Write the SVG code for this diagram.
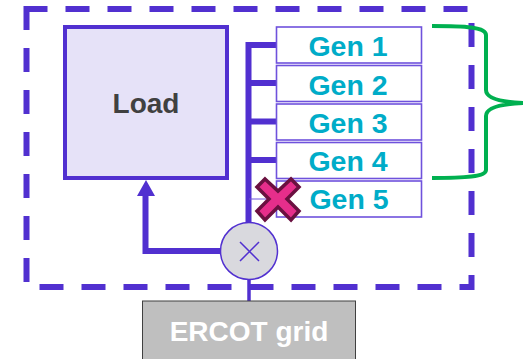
<svg xmlns="http://www.w3.org/2000/svg" width="523" height="359" viewBox="0 0 523 359">
<style>
.gen{fill:#fff;stroke:#6f52dc;stroke-width:1.6}
.gt{font:bold 28.500px "Liberation Sans",Arial,sans-serif;fill:#00acc8;text-anchor:middle}
.bus{fill:none;stroke:#5130d0;stroke-width:6}
</style>
<g id="boundary"><rect x="26.500" y="9" width="445" height="278" fill="none" stroke="#5130d0" stroke-width="6" stroke-dasharray="24 18" stroke-dashoffset="3"/></g>
<g id="load"><rect x="65" y="27" width="162" height="151" fill="#e6e2f8" stroke="#5130d0" stroke-width="4"/>
<text x="146" y="113" font-family="Liberation Sans,Arial,sans-serif" font-weight="bold" font-size="28" fill="#404040" text-anchor="middle">Load</text></g>
<g id="connectors">
<path class="bus" d="M276 45H248.500V225"/>
<path class="bus" d="M249 83H276M249 121.500H276M249 160H276"/>
<path d="M249 199H276" stroke="#6f52dc" stroke-width="1" fill="none"/>
<path class="bus" d="M222 251H145.500V192"/>
<path d="M146 180L155 196H137Z" fill="#5130d0"/>
<path d="M249 279V301" stroke="#5130d0" stroke-width="3.500" fill="none"/>
<path d="M432 26C465 26 486 27 486 35V90C486 98 500 102 523 103C500 104 486 108 486 116V170C486 177 465 178 432 178" fill="none" stroke="#00b050" stroke-width="4"/>
</g>
<g id="gen1"><rect class="gen" x="276.500" y="27" width="145" height="36"/><text class="gt" x="348" y="56">Gen 1</text></g>
<g id="gen2"><rect class="gen" x="276.500" y="65.500" width="145" height="36"/><text class="gt" x="348" y="95">Gen 2</text></g>
<g id="gen3"><rect class="gen" x="276.500" y="104" width="145" height="36"/><text class="gt" x="348" y="133">Gen 3</text></g>
<g id="gen4"><rect class="gen" x="276.500" y="142.500" width="145" height="36"/><text class="gt" x="348" y="171">Gen 4</text></g>
<g id="gen5"><rect class="gen" x="276.500" y="181" width="145" height="36"/><text class="gt" x="349" y="209">Gen 5</text></g>
<g id="cross"><path d="M265 179L278 191L291 179L299 187L287 199L299 211L291 220L278 207L265 220L257 211L269 199L257 187Z" fill="#e62e8b" stroke="#6a1040" stroke-width="3.500"/></g>
<g id="junction"><circle cx="249" cy="251" r="28.500" fill="#d9d9de" stroke="#5130d0" stroke-width="1.500"/>
<path d="M240 242L259 261M259 242L240 261" stroke="#5130d0" stroke-width="1.500" fill="none"/></g>
<g id="ercot"><rect x="142.500" y="301" width="213" height="70" fill="#bfbfbf" stroke="#404040" stroke-width="1"/>
<text x="249" y="341" font-family="Liberation Sans,Arial,sans-serif" font-weight="bold" font-size="28" fill="#fff" text-anchor="middle">ERCOT grid</text></g>
</svg>
